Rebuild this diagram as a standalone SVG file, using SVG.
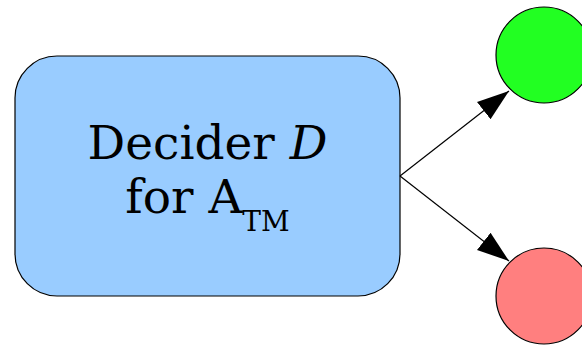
<svg xmlns="http://www.w3.org/2000/svg" width="582" height="346" viewBox="0 0 582 346">
<defs>
<style>
.lbl{font-family:"DejaVu Serif","Liberation Serif",serif;font-size:47px;fill:#000}
.edge{stroke:#000;stroke-width:1.2;fill:none}
</style>
<marker id="ah" markerUnits="userSpaceOnUse" markerWidth="34" markerHeight="24" refX="32" refY="11" orient="auto" viewBox="0 0 34 22">
<path d="M0,0 L32,11 L0,22 Z" fill="#000"/>
</marker>
</defs>
<rect width="582" height="346" fill="#fff"/>
<g id="decider">
<rect x="15" y="56" width="385" height="240" rx="42" ry="42" fill="#99ccff" stroke="#000" stroke-width="1.2"/>
<text class="lbl" x="207.5" y="159" text-anchor="middle">Decider <tspan font-style="italic">D</tspan></text>
<text class="lbl" x="207.5" y="213" text-anchor="middle">for A<tspan font-size="28" dy="18">TM</tspan></text>
</g>
<g id="accept">
<circle cx="544" cy="55" r="48" fill="#22ff22" stroke="#000" stroke-width="1.2"/>
</g>
<g id="reject">
<circle cx="544" cy="296" r="48" fill="#ff7f7f" stroke="#000" stroke-width="1.2"/>
</g>
<g id="connectors">
<line class="edge" x1="400" y1="176" x2="509" y2="91" marker-end="url(#ah)"/>
<line class="edge" x1="400" y1="176" x2="509" y2="261" marker-end="url(#ah)"/>
</g>
</svg>
